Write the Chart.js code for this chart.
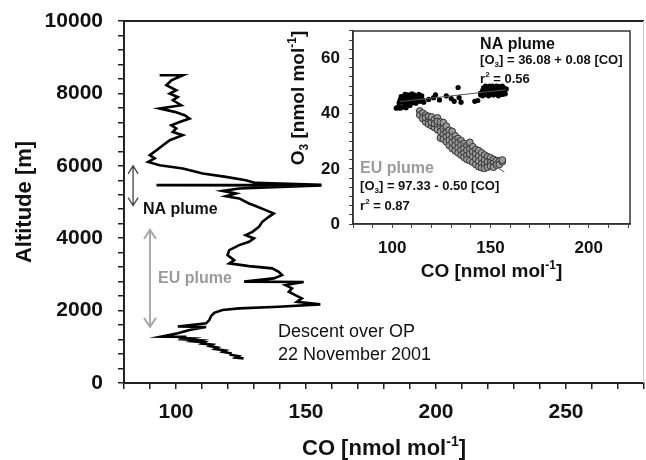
<!DOCTYPE html>
<html>
<head>
<meta charset="utf-8">
<script src="https://cdn.jsdelivr.net/npm/chart.js@4/dist/chart.umd.min.js"></script>
<style>
  html, body { margin: 0; padding: 0; background: #fff; }
  #wrap { position: relative; width: 646px; height: 460px; }
  #main { position: absolute; left: 0; top: 0; }
  #inset { position: absolute; left: 280px; top: 20px; }
</style>
</head>
<body>
<div id="wrap">
  <canvas id="main" width="646" height="460"></canvas>
  <canvas id="inset" width="360" height="270"></canvas>
</div>
<script>
// vertical CO profile, descent over OP (top to bottom)
const profileCO = [93.7, 102.6, 98.2, 96.3, 100.1, 97.6, 100.7, 98.8, 102.0, 93.7, 99.5, 103.3, 105.2, 101.4,
  98.2, 100.1, 98.8, 102.6, 97.6, 95.0, 92.5, 89.9, 91.8, 89.3, 93.7, 102.6, 110.3, 119.2, 126.8, 130.6,
  156, 92.5, 156, 124.3, 117.9, 123.0, 119.2, 124.3, 128.1, 130.6, 134.5, 137.6, 135.7, 133.2, 131.9,
  129.4, 126.8, 130.0, 128.1, 124.3, 120.5, 119.8, 122.4, 120.5, 128.1, 137.0, 139.5, 140.8, 137.6,
  126.2, 149.1, 142.1, 144.6, 143.4, 145.9, 148.4, 146.5, 155.5, 139.5, 124.3, 117.9, 114.7, 113.5,
  112.8, 111.6, 100.7, 111.6, 105.2, 100.7, 94.4, 104, 101, 106, 104, 109, 107, 111, 110, 114, 113,
  116, 115, 119, 118, 121, 121, 124, 123, 126];
const profileAlt = [8500, 8500, 8363, 8225, 8087, 7995, 7902, 7811, 7673, 7582, 7490, 7397, 7306, 7212,
  7121, 7030, 6936, 6845, 6707, 6569, 6431, 6293, 6202, 6108, 6017, 5926, 5788, 5694, 5603, 5528,
  5475, 5465, 5455, 5373, 5308, 5235, 5161, 5098, 4960, 4890, 4775, 4684, 4590, 4452, 4314,
  4176, 4085, 3994, 3900, 3809, 3671, 3533, 3395, 3304, 3229, 3166, 3072, 2981, 2890,
  2800, 2790, 2705, 2614, 2520, 2429, 2338, 2244, 2172, 2106, 2062, 2015, 1940, 1849,
  1739, 1648, 1560, 1548, 1463, 1372, 1280, 1275, 1240, 1230, 1200, 1180, 1150, 1130, 1090, 1060, 1020,
  980, 940, 900, 860, 820, 780, 740, 700, 680];

// inset: O3 vs CO, NA plume (black dots)
const naCO = [102, 103, 104, 105, 106, 107, 103.5, 104, 105, 105.5, 106, 107, 107.5, 108, 108.5, 109,
  109.5, 110, 110.5, 111, 111.5, 112, 112.5, 113, 113.5, 114, 114.5, 115, 115.5, 116, 104.5, 106.5,
  108, 110, 112, 106, 109, 118.5, 121, 122, 124, 127.5, 130, 131.5, 133.5, 134, 135, 142, 143.5, 145,
  145, 146, 146.5, 147, 148, 148.5, 149, 150, 150.5, 151, 151.5, 152, 152.5, 153, 153.5, 154, 154.5,
  155, 155.5, 156, 156.5, 157, 157.5, 158, 147.5, 149.5, 153, 156, 146, 151];
const naO3 = [42, 42.5, 42, 42.3, 42.8, 42.2, 44, 45, 44.5, 46, 45.3, 44, 46.5, 45, 43.5, 44.8,
  46, 45.5, 44, 46.8, 45.2, 44.5, 46.2, 45, 47, 44.5, 45.8, 46.5, 45, 44.2, 46.2, 47,
  46.8, 47.2, 43.8, 43.5, 43, 45.2, 45.8, 46.8, 45, 46.5, 45.5, 44.5, 49.5, 45.8, 44.2, 44.5, 44.8, 46.8,
  47.5, 48.5, 49.5, 47, 48, 49.5, 46.5, 47.8, 49, 50, 46.8, 48.3, 49.5, 47.2, 48.8, 46.5, 49.8,
  47.8, 48.9, 47, 49.5, 48.2, 47.2, 49, 50, 50, 50, 50, 46.5, 47.2];

// inset: EU plume (grey circles)
const euCO = [114, 114, 115.5, 115.5, 117, 117, 117, 118.5, 118.5, 118.5, 120, 120, 120, 120,
  121.5, 121.5, 121.5, 123, 123, 123, 123, 124.5, 124.5, 124.5, 124.5, 126, 126, 126, 126,
  127.5, 127.5, 127.5, 127.5, 129, 129, 129, 129, 130.5, 130.5, 130.5, 130.5, 132, 132, 132, 132,
  133.5, 133.5, 133.5, 133.5, 135, 135, 135, 135, 136.5, 136.5, 136.5, 136.5, 138, 138, 138, 138,
  139.5, 139.5, 139.5, 139.5, 141, 141, 141, 141, 142.5, 142.5, 142.5, 142.5, 144, 144, 144, 144,
  145.5, 145.5, 145.5, 145.5, 147, 147, 147, 147, 148.5, 148.5, 148.5, 150, 150, 150,
  151.5, 151.5, 151.5, 153, 153, 154.5, 154.5, 156, 156];
const euO3 = [41.0, 39.5, 40.2, 38.2, 39.5, 37.0, 38.6, 38.0, 36.2, 39.0, 37.5, 35.6, 38.8, 36.8,
  37.8, 35.0, 36.4, 38.5, 36.0, 34.2, 37.2, 35.6, 33.5, 37.0, 31.2, 36.8, 34.6, 32.4, 30.8,
  35.5, 33.2, 31.6, 29.8, 34.0, 32.2, 30.4, 28.5, 33.6, 31.5, 29.6, 27.4, 32.0, 30.2, 28.4, 26.6,
  31.0, 29.4, 27.6, 25.8, 30.2, 28.6, 26.8, 25.0, 29.2, 27.4, 25.6, 24.2, 28.4, 26.8, 24.8, 23.4,
  29.6, 27.2, 25.4, 23.0, 28.0, 26.2, 24.4, 22.4, 27.0, 25.4, 23.6, 21.6, 26.6, 24.6, 22.8, 20.8,
  25.8, 23.8, 21.8, 20.4, 25.0, 23.2, 21.4, 20.2, 24.4, 22.6, 20.6, 24.0, 22.4, 21.0,
  23.4, 22.0, 20.6, 23.0, 21.4, 22.8, 21.6, 22.6, 23.2];

// regression line end points
const naFitCO = [104, 158];
const naFitO3 = [44.4, 48.7];
const euFitCO = [113, 157];
const euFitO3 = [40.8, 18.8];

// tick labels
const mainXLabels = [100, 150, 200, 250];
const mainYLabels = [0, 2000, 4000, 6000, 8000, 10000];
const insetXLabels = [100, 150, 200];
const insetYLabels = [0, 20, 40, 60];

const FONT = '"Liberation Sans", Arial, sans-serif';

function pts(xs, ys) {
    return xs.map((x, i) => ({x: x, y: ys[i]}));
}

function tickList(min, max, step) {
    const out = [];
    for (let v = min; v <= max + 1e-9; v += step) out.push({value: v});
    return out;
}

// keep the plot area exactly where the layout padding puts it
function noPad(s) {
    s.paddingLeft = 0;
    s.paddingRight = 0;
    s.paddingTop = 0;
    s.paddingBottom = 0;
}

// text with sub/superscripts: parts = [[text, 0 normal | 1 sub | 2 sup], ...]
function drawRich(ctx, parts, x, y, size, weight, color, align) {
    const small = Math.round(size * 0.62);
    const widths = parts.map(([t, k]) => {
        ctx.font = `${weight} ${k ? small : size}px ${FONT}`;
        return ctx.measureText(t).width;
    });
    const total = widths.reduce((a, b) => a + b, 0);
    let cx = align === 'center' ? x - total / 2 : x;
    const base = y + size * 0.36;
    ctx.fillStyle = color;
    ctx.textAlign = 'left';
    ctx.textBaseline = 'alphabetic';
    parts.forEach(([t, k], i) => {
        ctx.font = `${weight} ${k ? small : size}px ${FONT}`;
        const dy = k === 1 ? size * 0.22 : (k === 2 ? -size * 0.42 : 0);
        ctx.fillText(t, cx, base + dy);
        cx += widths[i];
    });
}

function drawRotated(ctx, parts, x, y, size, weight, color) {
    ctx.save();
    ctx.translate(x, y);
    ctx.rotate(-Math.PI / 2);
    drawRich(ctx, parts, 0, 0, size, weight, color, 'center');
    ctx.restore();
}

function doubleArrow(ctx, x, y1, y2, color, width, hw, hh) {
    ctx.save();
    ctx.strokeStyle = color;
    ctx.lineWidth = width;
    ctx.beginPath();
    ctx.moveTo(x, y1);
    ctx.lineTo(x, y2);
    ctx.moveTo(x - hw, y1 + hh);
    ctx.lineTo(x, y1);
    ctx.lineTo(x + hw, y1 + hh);
    ctx.moveTo(x - hw, y2 - hh);
    ctx.lineTo(x, y2);
    ctx.lineTo(x + hw, y2 - hh);
    ctx.stroke();
    ctx.restore();
}

const mainDecor = {
    id: 'mainDecor',
    afterDraw(chart) {
        const ctx = chart.ctx;
        const a = chart.chartArea;
        const xs = chart.scales.x, ys = chart.scales.y;
        ctx.save();
        ctx.strokeStyle = '#222';
        ctx.lineWidth = 2;
        ctx.beginPath();
        ctx.moveTo(a.left, a.top);
        ctx.lineTo(a.right, a.top);
        ctx.stroke();
        ctx.strokeStyle = '#c8c8c8';
        ctx.lineWidth = 1;
        ctx.beginPath();
        ctx.moveTo(a.right - 0.5, a.top);
        ctx.lineTo(a.right - 0.5, a.bottom);
        ctx.stroke();
        ctx.restore();

        doubleArrow(ctx, xs.getPixelForValue(83.5), ys.getPixelForValue(6000), ys.getPixelForValue(4900), '#444', 1.3, 5, 8);
        doubleArrow(ctx, xs.getPixelForValue(90), ys.getPixelForValue(4230), ys.getPixelForValue(1550), '#aaa', 2, 6, 9);

        drawRich(ctx, [['NA plume', 0]], xs.getPixelForValue(87.3), ys.getPixelForValue(4830), 16, 'bold', '#111', 'left');
        drawRich(ctx, [['EU plume', 0]], xs.getPixelForValue(93.1), ys.getPixelForValue(2926), 16, 'bold', '#9b9b9b', 'left');
        drawRich(ctx, [['Descent over OP', 0]], xs.getPixelForValue(139.2), ys.getPixelForValue(1463), 18, 'normal', '#111', 'left');
        drawRich(ctx, [['22 November 2001', 0]], xs.getPixelForValue(139.2), ys.getPixelForValue(828), 18, 'normal', '#111', 'left');

        drawRich(ctx, [['CO [nmol mol', 0], ['-1', 2], [']', 0]], (a.left + a.right) / 2, 447, 22, 'bold', '#111', 'center');
        drawRotated(ctx, [['Altitude [m]', 0]], 23, (a.top + a.bottom) / 2, 22, 'bold', '#111');
    }
};

const insetDecor = {
    id: 'insetDecor',
    afterDraw(chart) {
        const ctx = chart.ctx;
        const a = chart.chartArea;
        const xs = chart.scales.x, ys = chart.scales.y;
        ctx.save();
        ctx.strokeStyle = '#333';
        ctx.lineWidth = 1.5;
        ctx.strokeRect(a.left, a.top, a.right - a.left, a.bottom - a.top);
        ctx.restore();

        const nx = xs.getPixelForValue(144.7);
        drawRich(ctx, [['NA plume', 0]], nx, ys.getPixelForValue(65.6), 16, 'bold', '#111', 'left');
        drawRich(ctx, [['[O', 0], ['3', 1], ['] = 36.08 + 0.08 [CO]', 0]], nx, ys.getPixelForValue(59.8), 13, 'bold', '#111', 'left');
        drawRich(ctx, [['r', 0], ['2', 2], [' = 0.56', 0]], nx, ys.getPixelForValue(53.0), 13, 'bold', '#111', 'left');

        const ex = xs.getPixelForValue(83.6);
        drawRich(ctx, [['EU plume', 0]], ex, ys.getPixelForValue(20.7), 16, 'bold', '#9b9b9b', 'left');
        drawRich(ctx, [['[O', 0], ['3', 1], ['] = 97.33 - 0.50 [CO]', 0]], ex, ys.getPixelForValue(14.1), 13, 'bold', '#111', 'left');
        drawRich(ctx, [['r', 0], ['2', 2], [' = 0.87', 0]], ex, ys.getPixelForValue(6.9), 13, 'bold', '#111', 'left');

        drawRich(ctx, [['CO [nmol mol', 0], ['-1', 2], [']', 0]], (a.left + a.right) / 2, a.bottom + 46, 19, 'bold', '#111', 'center');
        drawRotated(ctx, [['O', 0], ['3', 1], [' [nmol mol', 0], ['-1', 2], [']', 0]], a.left - 56, a.top + 67, 19, 'bold', '#111');
    }
};

new Chart(document.getElementById('main'), {
    type: 'scatter',
    data: {
        datasets: [{
            data: pts(profileCO, profileAlt),
            showLine: true,
            borderColor: '#000',
            borderWidth: 2.6,
            pointRadius: 0,
            tension: 0,
            fill: false
        }]
    },
    options: {
        responsive: false,
        animation: false,
        layout: {padding: {top: 21, right: 2, left: 0, bottom: 0}},
        plugins: {legend: {display: false}, tooltip: {enabled: false}},
        scales: {
            x: {
                type: 'linear', min: 80, max: 280,
                afterBuildTicks: s => { s.ticks = tickList(80, 280, 10); },
                afterFit: s => { s.height = 77; noPad(s); },
                ticks: {
                    autoSkip: false, maxRotation: 0, padding: 11, color: '#111',
                    font: {family: FONT, size: 21, weight: 'bold'},
                    callback: v => mainXLabels.includes(v) ? String(v) : ''
                },
                grid: {drawOnChartArea: false, tickLength: 6, color: '#222', lineWidth: 1.5},
                border: {color: '#222', width: 2}
            },
            y: {
                type: 'linear', min: 0, max: 10000,
                afterBuildTicks: s => { s.ticks = tickList(0, 10000, 400); },
                afterFit: s => { s.width = 124; noPad(s); },
                ticks: {
                    autoSkip: false, padding: 15, color: '#111',
                    font: {family: FONT, size: 21, weight: 'bold'},
                    callback: v => mainYLabels.includes(v) ? String(v) : ''
                },
                grid: {drawOnChartArea: false, tickLength: 6, color: '#222', lineWidth: 1.5},
                border: {color: '#222', width: 2}
            }
        }
    },
    plugins: [mainDecor]
});

new Chart(document.getElementById('inset'), {
    type: 'scatter',
    data: {
        datasets: [
            {data: pts(naFitCO, naFitO3), showLine: true, borderColor: '#555', borderWidth: 1, pointRadius: 0},
            {data: pts(euFitCO, euFitO3), showLine: true, borderColor: '#555', borderWidth: 1, pointRadius: 0},
            {data: pts(naCO, naO3), pointRadius: 2.6, backgroundColor: '#000', borderWidth: 0},
            {data: pts(euCO, euO3), pointRadius: 3.4, backgroundColor: '#9a9a9a', borderColor: '#333', borderWidth: 1}
        ]
    },
    options: {
        responsive: false,
        animation: false,
        layout: {padding: {top: 11, right: 10, left: 0, bottom: 0}},
        plugins: {legend: {display: false}, tooltip: {enabled: false}},
        scales: {
            x: {
                type: 'linear', min: 80, max: 221,
                afterBuildTicks: s => { s.ticks = tickList(80, 220, 10); },
                afterFit: s => { s.height = 66; noPad(s); },
                ticks: {
                    autoSkip: false, maxRotation: 0, padding: 10, color: '#111',
                    font: {family: FONT, size: 17, weight: 'bold'},
                    callback: v => insetXLabels.includes(v) ? String(v) : ''
                },
                grid: {drawOnChartArea: false, tickLength: 4, color: '#444', lineWidth: 1},
                border: {color: '#333', width: 1.5}
            },
            y: {
                type: 'linear', min: 0, max: 70,
                afterBuildTicks: s => { s.ticks = tickList(0, 70, 10 / 3); },
                afterFit: s => { s.width = 73; noPad(s); },
                ticks: {
                    autoSkip: false, padding: 9, color: '#111',
                    font: {family: FONT, size: 17, weight: 'bold'},
                    callback: v => {
                        const r = Math.round(v);
                        return Math.abs(v - r) < 1e-6 && insetYLabels.includes(r) ? String(r) : '';
                    }
                },
                grid: {drawOnChartArea: false, tickLength: 4, color: '#444', lineWidth: 1},
                border: {color: '#333', width: 1.5}
            }
        }
    },
    plugins: [insetDecor]
});
</script>
</body>
</html>
